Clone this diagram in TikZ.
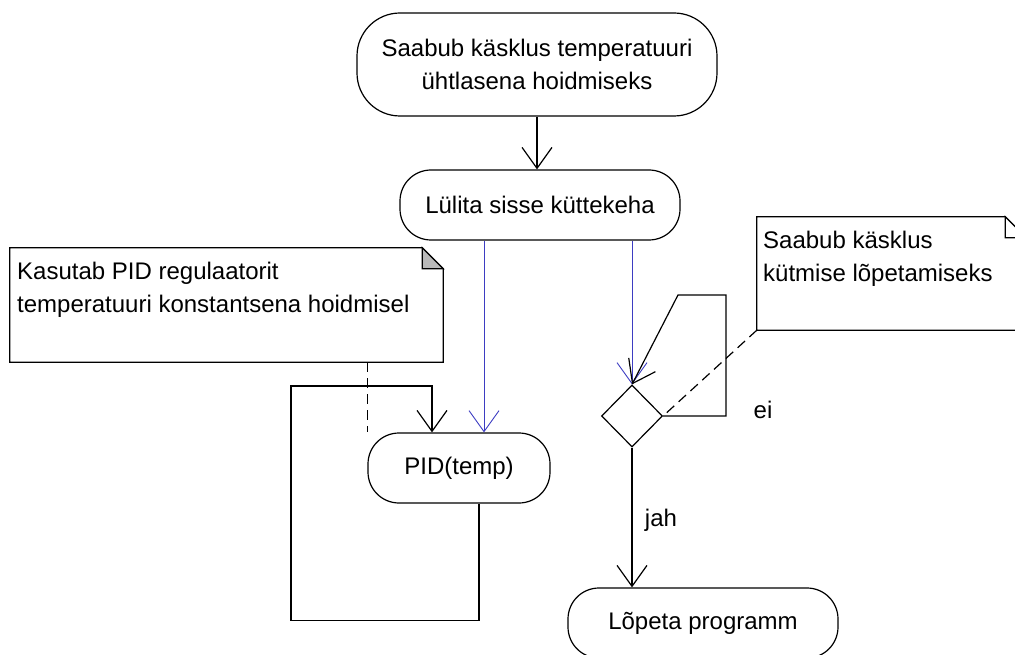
\documentclass[tikz,border=0pt]{standalone}
\usepackage{fontspec}
\setmainfont{Liberation Sans}
\usetikzlibrary{arrows.meta,shapes.geometric}
\definecolor{flowBlue}{rgb}{0.24,0.24,0.76}

\begin{document}
\begin{tikzpicture}[x=1pt, y=-1pt, font=\fontsize{24}{33}\selectfont,
	>={Straight Barb[length=21pt,width=30pt]},
	action/.style={draw, line width=1.2pt, align=center, inner sep=0pt, rounded corners=31pt, minimum height=70pt},
	decision/.style={diamond, draw, line width=1.2pt, inner sep=0pt, minimum width=61pt, minimum height=62pt},
	notebox/.style={inner sep=0pt},
	notetext/.style={anchor=north west, align=left, inner sep=0pt},
	flow/.style={->, line width=1.2pt},
	blueflow/.style={->, line width=0.9pt, flowBlue},
	noteline/.style={line width=1.2pt, dashed, dash pattern=on 10pt off 6pt}]
	\useasboundingbox (0,0) rectangle (1015,655);
	\node[action, rounded corners=43pt, minimum width=360pt, minimum height=103pt] (start) at (537,64.5) {Saabub käsklus temperatuuri\\ühtlasena hoidmiseks};
	\node[action, minimum width=280pt] (heat) at (540,205) {Lülita sisse küttekeha};
	\node[action, minimum width=182pt] (pid) at (459,468) {PID(temp)};
	\node[decision] (dec) at (632,416) {};
	\node[action, minimum width=270pt] (stop) at (703,623) {Lõpeta programm};
	\node[notebox, minimum width=433pt, minimum height=114pt] (noteL) at (226.5,305) {};
	\node[notebox, minimum width=269pt, minimum height=113pt] (noteR) at (891.5,273.5) {};
	\node[notetext] (txtL) at (17,262) {Kasutab PID regulaatorit\\temperatuuri konstantsena hoidmisel};
	\node[notetext] (txtR) at (763,231) {Saabub käsklus\\kütmise lõpetamiseks};
	\node (ei) at (763,410) {ei};
	\node (jah) at (661,520) {jah};
	\foreach \n/\c in {noteL/gray!55, noteR/white} {
		\draw[line width=1.2pt] (\n.north west) -- ([xshift=-21pt]\n.north east) -- ([yshift=-21pt]\n.north east) -- (\n.south east) -- (\n.south west) -- cycle;
		\filldraw[line width=1.2pt, fill=\c] ([xshift=-21pt]\n.north east) -- ([xshift=-21pt,yshift=-21pt]\n.north east) -- ([yshift=-21pt]\n.north east) -- cycle;
	}
	\draw[flow] (start.south) -- (start.south |- heat.north);
	\draw[blueflow] ([xshift=-56pt]heat.south) -- ([xshift=25pt]pid.north);
	\draw[blueflow] (dec.north |- heat.south) -- (dec.north);
	\draw[flow] ([xshift=20pt]pid.south) -- ++(0,117) -| (291,386) -| ([xshift=-27pt]pid.north);
	\draw[flow] (dec.east) -- (726,416) |- (678,295) -- (dec.north);
	\draw[flow] (dec.south) -- (dec.south |- stop.north);
	\draw[noteline] (noteL.south -| pid.west) -- (pid.north west);
	\draw[noteline] (noteR.south west) -- (dec.east);
\end{tikzpicture}
\end{document}
